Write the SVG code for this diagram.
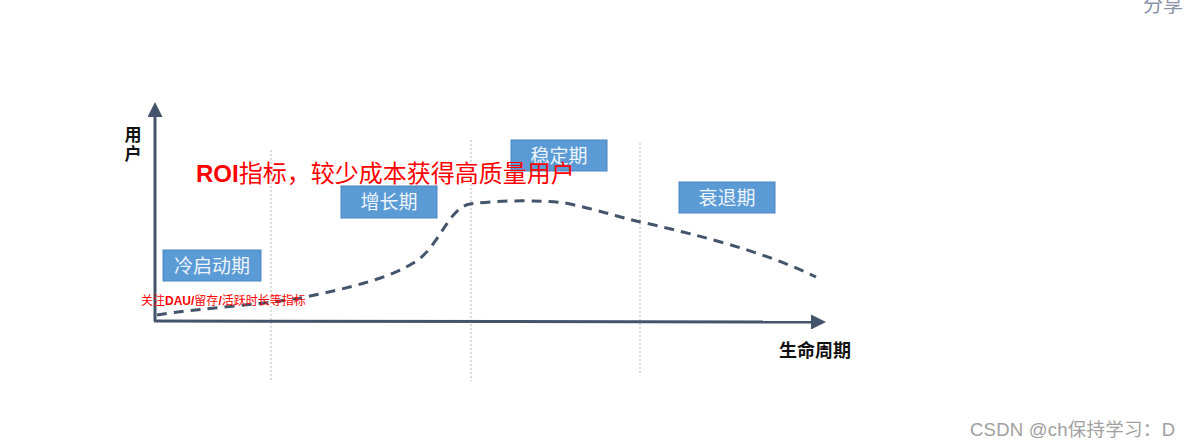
<svg xmlns="http://www.w3.org/2000/svg" width="1190" height="448" viewBox="0 0 1190 448">
<style>
.cjk{font-family:"Liberation Sans","Noto Sans CJK SC",sans-serif}
.box rect{fill:#5b9bd5;stroke:#4a86bf;stroke-width:1}
.box text{fill:#eef4fb;font-size:19px;text-anchor:middle}
.axis{stroke:#44546a;stroke-width:3;fill:none}
.grid{stroke:#b8b8b8;stroke-width:1;stroke-dasharray:2 2;fill:none}
</style>
<defs>
<marker id="ah" markerWidth="5" markerHeight="5" refX="1" refY="2.5" orient="auto" markerUnits="strokeWidth">
<path d="M0,0 L5,2.5 L0,5 Z" fill="#44546a"/>
</marker>
</defs>
<rect width="1190" height="448" fill="#ffffff"/>
<text x="1143" y="12" class="cjk" font-size="20" fill="#8a93a8">分享</text>
<g id="connectors">
<line class="grid" x1="271" y1="150" x2="271" y2="381"/>
<line class="grid" x1="471" y1="140" x2="471" y2="381"/>
<line class="grid" x1="640" y1="143" x2="640" y2="374"/>
<path class="axis" d="M155,321 L155,114" marker-end="url(#ah)"/>
<path class="axis" d="M154,321 L814,322" marker-end="url(#ah)"/>
<path d="M157,315 C200,308 260,305 300,298 C350,288 390,278 415,262 C440,246 448,208 470,204 C500,200 540,200 565,203 C600,210 620,218 650,224 C700,236 760,250 816,277" fill="none" stroke="#44546a" stroke-width="3" stroke-dasharray="10 7"/>
</g>
<g id="n-lengqidong" class="box"><rect x="163" y="250" width="98" height="31"/><text x="212" y="273" class="cjk">冷启动期</text></g>
<g id="n-zengzhang" class="box"><rect x="341" y="186" width="96" height="32"/><text x="389" y="209" class="cjk">增长期</text></g>
<g id="n-wending" class="box"><rect x="511" y="140" width="96" height="31"/><text x="559" y="163" class="cjk">稳定期</text></g>
<g id="n-shuaitui" class="box"><rect x="679" y="182" width="96" height="31"/><text x="727" y="205" class="cjk">衰退期</text></g>
<g id="labels">
<text x="133" y="141" class="cjk" font-size="17" font-weight="bold" fill="#111" text-anchor="middle">用</text>
<text x="133" y="160" class="cjk" font-size="17" font-weight="bold" fill="#111" text-anchor="middle">户</text>
<text x="196" y="182" class="cjk" font-size="24" fill="#ff0000"><tspan font-weight="bold">ROI</tspan>指标，较少成本获得高质量用户</text>
<text x="141" y="305" class="cjk" font-size="12" fill="#ff0000">关注<tspan font-weight="bold">DAU/</tspan>留存<tspan font-weight="bold">/</tspan>活跃时长等指标</text>
<text x="779" y="357" class="cjk" font-size="18" font-weight="bold" fill="#111">生命周期</text>
<text x="970" y="436" class="cjk" font-size="18.5" fill="#a0a0a0" textLength="205">CSDN @ch保持学习：D</text>
</g>
</svg>
